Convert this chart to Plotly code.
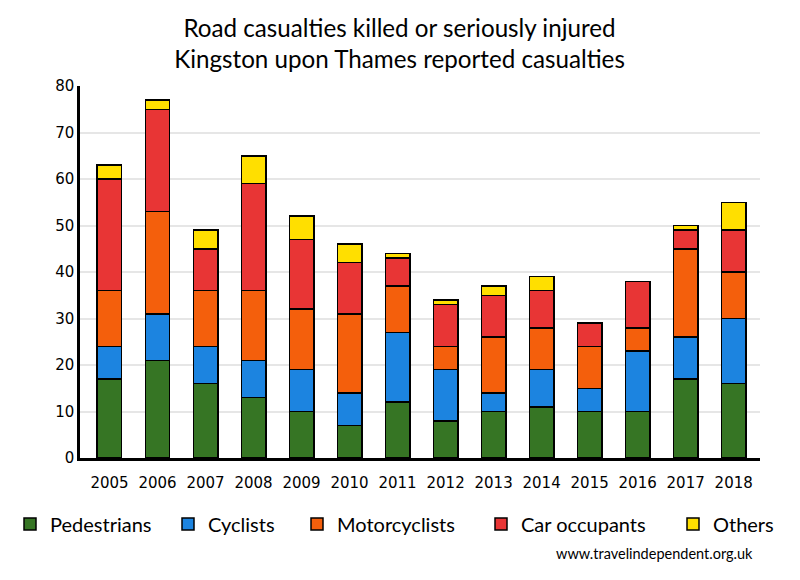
import plotly.graph_objects as go

years = [2005, 2006, 2007, 2008, 2009, 2010, 2011, 2012, 2013, 2014, 2015, 2016, 2017, 2018]
pedestrians = [17, 21, 16, 13, 10, 7, 12, 8, 10, 11, 10, 10, 17, 16]
cyclists = [7, 10, 8, 8, 9, 7, 15, 11, 4, 8, 5, 13, 9, 14]
motorcyclists = [12, 22, 12, 15, 13, 17, 10, 5, 12, 9, 9, 5, 19, 10]
car_occupants = [24, 22, 9, 23, 15, 11, 6, 9, 9, 8, 5, 10, 4, 9]
others = [3, 2, 4, 6, 5, 4, 1, 1, 2, 3, 0, 0, 1, 6]

series = [
    ("Pedestrians", pedestrians, "#367524"),
    ("Cyclists", cyclists, "#1c84e0"),
    ("Motorcyclists", motorcyclists, "#f45f0c"),
    ("Car occupants", car_occupants, "#e83535"),
    ("Others", others, "#ffdf00"),
]
legend_ids = ["legend", "legend2", "legend3", "legend4", "legend5"]
# page offset of 8px (body margin) is subtracted from screen positions
OFF = 8
W, H = 800 - OFF, 580 - OFF
PL, PR, PT, PB = 80 - OFF, 760 - OFF, 86 - OFF, 458 - OFF
PW, PH = PR - PL, PB - PT
legend_left_px = [10, 168, 297, 481, 673]

fig = go.Figure()
for (name, vals, col), lid in zip(series, legend_ids):
    fig.add_trace(go.Bar(
        x=years, y=vals, name=name, width=0.51, legend=lid, showlegend=True,
        marker=dict(color=col, line=dict(color="black", width=1.5)),
    ))

legend_common = dict(
    orientation="h", xanchor="left", yanchor="middle",
    font=dict(family="Lato", size=20, color="black"),
    bgcolor="rgba(0,0,0,0)", borderwidth=0, visible=True,
)
legend_layout = {}
for lid, px in zip(legend_ids, legend_left_px):
    legend_layout[lid] = dict(legend_common, x=(px - OFF - PL) / PW,
                              y=-(524 - OFF - PB) / PH)

fig.update_layout(
    barmode="stack",
    width=W, height=H,
    showlegend=True,
    margin=dict(l=PL, r=W - PR, t=PT, b=H - PB, autoexpand=False),
    plot_bgcolor="white", paper_bgcolor="white",
    title=dict(
        text="Road casualties killed or seriously injured<br>Kingston upon Thames reported casualties",
        x=(399.5 - OFF) / W, xanchor="center", xref="container",
        y=1 - 28.5 / H, yanchor="middle",
        font=dict(family="Lato", size=24.2, color="black"),
    ),
    xaxis=dict(
        range=[2004.386, 2018.548], tickvals=years, ticktext=[str(y) for y in years],
        showgrid=False, showline=True, linecolor="black", linewidth=2.5,
        ticks="outside", ticklen=9, tickcolor="rgba(0,0,0,0)",
        tickfont=dict(family="DejaVu Sans", size=15, color="black"),
        zeroline=False,
    ),
    yaxis=dict(
        range=[0, 80], dtick=10, showgrid=True, gridcolor="#e6e6e6", gridwidth=2,
        showline=True, linecolor="black", linewidth=2.5, ticks="",
        tickfont=dict(family="DejaVu Sans", size=15, color="black"),
        zeroline=False,
    ),
    annotations=[dict(
        text="www.travelindependent.org.uk", xref="paper", yref="paper",
        x=(755 - OFF - PL) / PW, xanchor="right", y=-(553 - OFF - PB) / PH,
        yanchor="middle", showarrow=False,
        font=dict(family="Lato", size=14.5, color="black"),
    )],
    **legend_layout,
)

fig.write_html("out.html")
